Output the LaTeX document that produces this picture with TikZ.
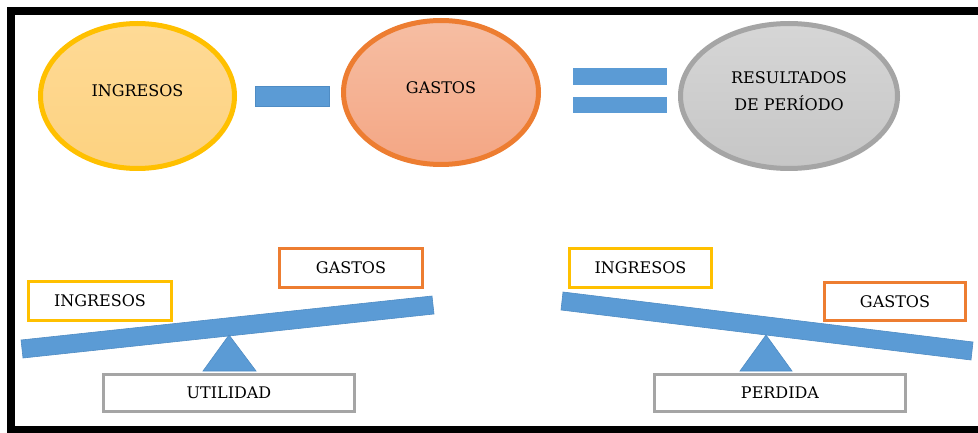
\documentclass[tikz,border=0pt]{standalone}
\usepackage{fontspec}
\setmainfont{DejaVu Serif}
\usetikzlibrary{shapes.geometric}
\definecolor{cyellow}{HTML}{FFC000}
\definecolor{corange}{HTML}{ED7D31}
\definecolor{cgray}{HTML}{A5A5A5}
\definecolor{cblue}{HTML}{5B9BD5}
\definecolor{cblueedge}{HTML}{4F8CC4}
\tikzset{
  ell/.style={ellipse, inner sep=0pt, line width=5pt},
  lbl/.style={inner sep=0pt, align=center, font=\fontsize{16}{26.5}\selectfont},
  boxy/.style={rectangle, inner sep=0pt, line width=3pt, fill=white, font=\fontsize{16}{18}\selectfont},
  bluebar/.style={fill=cblue, draw=cblueedge, line width=0.6pt},
}
\begin{document}
\begin{tikzpicture}[x=1pt,y=-1pt]
\useasboundingbox (0,0) rectangle (978,433);
\fill[white] (0,0) rectangle (978,433);
% frame
\draw[gray!40, line width=1pt] (7,7.5) -- (978,7.5);
\draw[black, line width=8pt] (978,11) -- (11,11) -- (11,429.5) -- (978,429.5);

% top ellipses
\node[ell, draw=cyellow, top color={rgb,255:red,254;green,218;blue,150}, bottom color={rgb,255:red,253;green,210;blue,128},
      minimum width=194pt, minimum height=145pt] (ing) at (137.5,96) {};
\node[lbl] (ingt) at (137.5,91) {INGRESOS};

\node[ell, draw=corange, top color={rgb,255:red,246;green,190;blue,163}, bottom color={rgb,255:red,244;green,166;blue,132},
      minimum width=195pt, minimum height=144pt] (gas) at (441,92.5) {};
\node[lbl] (gast) at (441,88) {GASTOS};

\node[ell, draw=cgray, top color={rgb,255:red,214;green,214;blue,214}, bottom color={rgb,255:red,198;green,198;blue,198},
      minimum width=217pt, minimum height=145pt] (res) at (789,96) {};
\node[lbl] (rest) at (789,91) {RESULTADOS\\DE PERÍODO};

% operators
\draw[bluebar] (255,86) rectangle (329,106);
\fill[cblue] (573,68) rectangle (667,85);
\fill[cblue] (573,97) rectangle (667,113);

% left balance
\draw[bluebar] (21,340) -- (432,296) -- (434,314) -- (23,358) -- cycle;
\draw[bluebar] (229,335) -- (256,371) -- (203,371) -- cycle;
\node[boxy, draw=cyellow, minimum width=143pt, minimum height=39pt] (lin) at (100,301) {INGRESOS};
\node[boxy, draw=corange, minimum width=143pt, minimum height=39pt] (lga) at (351,268) {GASTOS};
\node[boxy, draw=cgray, minimum width=251pt, minimum height=37pt] (uti) at (229,393) {UTILIDAD};

% right balance
\draw[bluebar] (563,292) -- (973,342) -- (971,360) -- (561,310) -- cycle;
\draw[bluebar] (766,335) -- (792,371) -- (740,371) -- cycle;
\node[boxy, draw=cyellow, minimum width=142pt, minimum height=39pt] (rin) at (640.5,268) {INGRESOS};
\node[boxy, draw=corange, minimum width=141pt, minimum height=38pt] (rga) at (895,301.5) {GASTOS};
\node[boxy, draw=cgray, minimum width=251pt, minimum height=37pt] (per) at (780,393) {PERDIDA};
\end{tikzpicture}
\end{document}
